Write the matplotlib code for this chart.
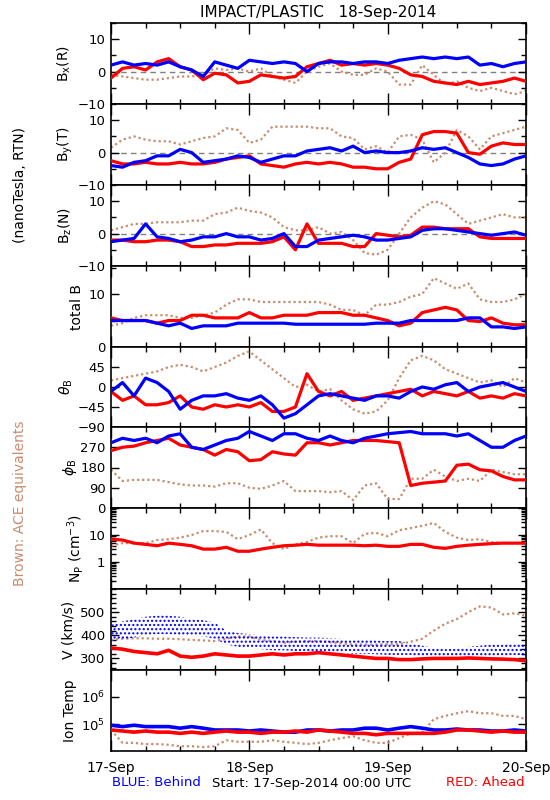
import matplotlib.pyplot as plt
import numpy as np
from matplotlib.ticker import MultipleLocator, FixedLocator, FixedFormatter, NullLocator, LogLocator, NullFormatter

# time axis, hours after 17-Sep-2014 00:00, every 2 h
hours = np.arange(0, 73, 2)
day_labels = ["17-Sep", "18-Sep", "19-Sep", "20-Sep"]

# --- magnetic field, nT (RTN) ---
bx_blue = [2, 3, 2, 2.5, 2, 3, 1.5, 0.5, -1.5, 3, 2, 1, 3.5, 3, 2.5, 3, 2.5, 0, 2.5, 3, 3, 2.5, 3, 3, 2.5,
           3.5, 4, 4.5, 4, 4.5, 4, 4.5, 2, 2.5, 1.5, 2.5, 3]
bx_red = [-2, 1, 1.5, 0.5, 3, 4, 1.5, 0.5, -2.5, -0.5, -1, -3.5, -3, -1, -1.5, -2, -1.5, 1.5, 2.5, 3.5, 2, 2.5,
          2, 2.5, 2, 1, -1, -1.5, -3, -3.5, -4, -3, -4, -3.5, -3, -2, -3]
bx_brown = [-1, -1.5, -2, -2.5, -2.5, -2, -1.5, -1.5, -1, 1, 0.5, 1, 0, 1, -1.5, -2.5, -3.5, 0, 1.5, 2.5, 0, -1,
            -1, 1, 0, -4, -4, 2, -1, -4, -3, -5, -6, -5, -6, -7, -6]

by_blue = [-4, -4.5, -3, -2.5, -1, -1, 1, 0, -3, -2.5, -2, -1, -1.5, -3, -2, -1, -1, 0.5, 1, 1.5, 0.5, 2, 0,
           0.5, 0, 0, 0.5, 1.5, 1, 1.5, 0, -1.5, -3.5, -4, -3.5, -2, -1]
by_red = [-2.5, -3.5, -3.5, -3, -3.5, -3.5, -3, -3.5, -3.5, -3, -2, -1.5, -1, -3.5, -4, -4.5, -3.5, -3, -3.5, -3,
          -3.5, -4.5, -4.5, -5, -5, -3, -2, 5.5, 6.5, 6.5, 6, 0, -0.5, 2, 3, 2.5, 2.5]
by_brown = [1.5, 4, 5, 4, 3.5, 3.5, 2.5, 3.5, 4.5, 5, 7.5, 7, 3, 4, 8, 8, 8, 8, 7.5, 7.5, 5, 4.5, 1, 2, 0, 5,
            5.5, 4, -3, 0, 7, 5, 1, 5, 6, 7, 8]

bz_blue = [-2.5, -2, -1.5, 3, -1, -1.5, -2.5, -2, -1, -1, 0, -1, -1, -2, -1.5, 0, -4, -4, -2, -1.5, -1, -0.5,
           -1, -2, -2, -1.5, -1, 1, 1.5, 1.5, 1, 0.5, 0, -0.5, 0, 0.5, -0.5]
bz_red = [-2, -2, -2.5, -2.5, -2, -2, -2.5, -4, -4, -3.5, -3.5, -3, -3, -3, -2.5, -1, -5, 3, -3, -3, -3, -4, -4,
          0, -0.5, -1, -0.5, 2, 2, 1.5, 1.5, 1.5, -1, -1.5, -1.5, -1.5, -1.5]
bz_brown = [1, 2, 3, 3, 3.5, 3.5, 3.5, 4, 4, 6, 6.5, 8, 7, 6.5, 5, 2, 1, 1, 2, 0, 0.5, -2, -6, -6.5, -5, 0, 5,
            8, 10, 9, 6, 3, 4, 5, 6, 5, 5]

bt_blue = [5, 5, 5, 5, 4.5, 4, 4.5, 3.5, 4, 4, 4, 4.5, 4.5, 4.5, 4.5, 4.5, 4.3, 4.3, 4.3, 4.3, 4.3, 4.3, 4.3,
           4.5, 4.5, 4.5, 5, 5, 5, 5, 5, 5.5, 5.5, 3.8, 3.8, 3.5, 3.8]
bt_red = [5.5, 5, 5, 5, 4.5, 5, 5, 6, 6, 5.5, 5.5, 5.5, 6.5, 5.5, 5.5, 6, 6, 6, 6.5, 6.5, 6.5, 6, 6, 5.5, 5, 4,
          4.5, 6.5, 7, 7.5, 7, 5, 4.8, 5.5, 4.5, 4.2, 4.2]
bt_brown = [4, 4.5, 5.5, 6, 6, 6, 5.5, 5.5, 6, 6.5, 8, 9, 9, 8.5, 8.5, 8.5, 8.5, 8.5, 8.5, 8, 7, 7, 6, 8, 8, 8.5,
            9.5, 10, 13, 12, 11, 12, 9, 8.5, 8.5, 9, 10]

# --- field angles, degrees ---
theta_blue = [-10, 10, -20, 20, 10, -10, -50, -30, -20, -20, -15, -25, -30, -20, -40, -70, -60, -40, -20, -15,
              -20, -25, -30, -20, -20, -25, -10, 0, -5, 5, 10, -10, 0, 5, 10, 0, -10]
theta_red = [-10, -30, -20, -40, -40, -35, -20, -45, -50, -40, -45, -40, -45, -35, -55, -55, -45, 30, -10, -20,
             -10, -30, -25, -20, -15, -10, -5, -20, -10, -15, -20, -10, -25, -20, -25, -15, -20]
theta_brown = [15, 20, 25, 30, 35, 45, 50, 45, 35, 45, 55, 70, 80, 60, 40, 20, 0, 5, -10, -5, -30, -50, -60,
               -55, -30, 20, 60, 70, 60, 40, 30, 20, 10, 15, 0, 20, 10]

phi_blue = [290, 310, 300, 310, 290, 320, 330, 270, 260, 280, 300, 310, 340, 320, 300, 330, 330, 310, 300, 320,
            300, 290, 310, 320, 330, 335, 340, 330, 330, 330, 320, 330, 300, 270, 270, 300, 320]
phi_red = [255, 270, 275, 290, 300, 310, 280, 270, 260, 235, 260, 250, 210, 215, 250, 240, 235, 290, 290, 280,
           290, 300, 300, 300, 295, 290, 100, 110, 115, 120, 190, 195, 170, 165, 140, 125, 125]
phi_brown = [170, 120, 125, 125, 125, 115, 105, 100, 100, 95, 110, 110, 90, 85, 100, 120, 75, 75, 75, 70, 75,
             35, 100, 110, 40, 40, 130, 130, 170, 140, 120, 130, 120, 170, 160, 150, 150]

# --- plasma ---
np_red = [7, 6.5, 5, 4.5, 4, 5, 4.5, 4, 3, 3, 3.5, 2.5, 2.5, 3, 3.5, 4, 4.2, 4.5, 4.2, 4.2, 4.2, 4.2, 4, 4.2,
          3.8, 3.8, 4.5, 4.5, 3.5, 3.2, 3.8, 4.2, 4.5, 4.8, 5, 5, 5]
np_brown = [4, 5, 5, 5, 6.5, 7, 8, 10, 14, 14, 13, 7, 10, 16, 5, 3, 4.5, 5.5, 8, 9, 9, 5, 11, 12, 9, 15, 18, 22,
            28, 13, 8, 6.5, 7, 5.5, 5, 5, 4.5]

v_blue = [410, 420, 430, 440, 445, 445, 440, 435, 430, 420, 390, 380, 375, 370, 365, 365, 362, 360, 360, 358,
          355, 350, 350, 348, 345, 345, 340, 330, 320, 315, 318, 325, 330, 335, 335, 340, 335]
v_blue_spread = [35, 40, 40, 40, 40, 40, 40, 35, 35, 35, 30, 30, 30, 30, 30, 30, 30, 30, 30, 30, 30, 30, 30,
                 30, 30, 30, 25, 25, 25, 25, 25, 25, 25, 25, 25, 25, 25]
v_red = [345, 340, 330, 325, 320, 335, 310, 305, 310, 320, 315, 310, 310, 315, 320, 315, 320, 320, 325, 320, 315,
         310, 305, 300, 300, 295, 295, 298, 300, 300, 300, 302, 300, 298, 297, 295, 290]
v_brown = [380, 385, 387, 387, 385, 385, 383, 380, 378, 375, 385, 395, 395, 380, 375, 368, 372, 375, 375, 370,
           365, 360, 360, 360, 362, 362, 372, 385, 420, 450, 470, 500, 525, 520, 490, 495, 485]

t_blue = [9e4, 8e4, 9e4, 8e4, 8e4, 8e4, 7e4, 8e4, 7e4, 6e4, 6e4, 6e4, 5.5e4, 6e4, 5.5e4, 5e4, 5e4, 6e4, 6e4,
          5.5e4, 6e4, 6e4, 7e4, 7e4, 6e4, 7e4, 8e4, 7e4, 6e4, 6e4, 6.5e4, 6e4, 6e4, 5.5e4, 5.5e4, 6e4, 5.5e4]
t_red = [6e4, 5.5e4, 5e4, 5.5e4, 5e4, 5e4, 4.5e4, 5e4, 4.5e4, 5e4, 5.5e4, 5e4, 5e4, 4.5e4, 5e4, 5e4, 5.5e4, 5e4,
         6e4, 5.5e4, 5e4, 4.5e4, 4.5e4, 4e4, 4.5e4, 4.5e4, 4.5e4, 4.5e4, 4.5e4, 5e4, 6e4, 6e4, 5.5e4, 5e4,
         5.5e4, 5e4, 5e4]
t_brown = [6e4, 2e4, 2e4, 1.8e4, 1.8e4, 1.7e4, 1.5e4, 1.5e4, 1.4e4, 1.5e4, 2.5e4, 2.2e4, 2.2e4, 2.2e4, 2.5e4,
           2.2e4, 2e4, 1.8e4, 2e4, 2.5e4, 3e4, 3.5e4, 2.5e4, 2e4, 2e4, 3e4, 4.5e4, 5e4, 1.5e5, 2e5, 2.5e5, 3e5,
           2.5e5, 2.5e5, 2e5, 2e5, 1.5e5]

BLUE = "#0000ff"
RED = "#ff0000"
BROWN = "#c88c6e"

plt.rcParams["font.family"] = "DejaVu Sans"

fig = plt.figure(figsize=(5.5, 8), dpi=100)
W, H = 550.0, 800.0
edges = [23, 104, 185, 266, 347, 427, 508, 589, 670, 751]

panels = [
    # (ylabel, label x centre px, series (blue, red, brown), ylim, log)
    (r"B$_{\rm x}$(R)", 64, (bx_blue, bx_red, bx_brown), (-10, 15), False),
    (r"B$_{\rm y}$(T)", 65, (by_blue, by_red, by_brown), (-10, 15), False),
    (r"B$_{\rm z}$(N)", 65, (bz_blue, bz_red, bz_brown), (-10, 15), False),
    ("total B", 77, (bt_blue, bt_red, bt_brown), (0, 15.3), False),
    (r"$\theta_{\rm B}$", 66, (theta_blue, theta_red, theta_brown), (-90, 90), False),
    (r"$\phi_{\rm B}$", 70, (phi_blue, phi_red, phi_brown), (0, 360), False),
    (r"N$_{\rm P}$ (cm$^{-3}$)", 75, (None, np_red, np_brown), (0.1, 100), True),
    ("V (km/s)", 68, (None, v_red, v_brown), (250, 600), False),
    ("Ion Temp", 70, (t_blue, t_red, t_brown), (1e4, 1e7), True),
]

brown_dots = (0, (1, 1.3))
axes = []
for i, (label, lx, (sb, sr, sbr), ylim, logy) in enumerate(panels):
    top, bot = edges[i], edges[i + 1]
    ax = fig.add_axes([111 / W, 1 - bot / H, 415 / W, (bot - top) / H])
    axes.append(ax)
    if logy:
        ax.set_yscale("log")
    if i < 3:
        ax.axhline(0, color="gray", ls=(0, (4, 3)), lw=1, zorder=1)
    ax.plot(hours, sbr, color=BROWN, lw=1.6, ls=brown_dots, zorder=2)
    if i >= 7:
        if sb is not None:
            ax.plot(hours, sb, color=BLUE, lw=2.6, zorder=3)
        ax.plot(hours, sr, color=RED, lw=2.6, zorder=4)
    else:
        ax.plot(hours, sr, color=RED, lw=2.3, zorder=3)
        if sb is not None:
            ax.plot(hours, sb, color=BLUE, lw=2.3, zorder=4)
    ax.set_xlim(0, 72)
    ax.set_ylim(*ylim)
    ax.set_ylabel(label, fontsize=10, va="center")
    ax.yaxis.set_label_coords((lx - 111) / 415, 0.5)
    ax.xaxis.set_major_locator(MultipleLocator(24))
    ax.xaxis.set_minor_locator(MultipleLocator(6))
    ax.tick_params(which="both", direction="in", top=True, right=True, labelsize=9.5, width=1)
    ax.tick_params(which="major", length=6, pad=4)
    ax.tick_params(which="minor", length=3.5)
    ax.tick_params(axis="x", which="major", length=8)
    for sp in ax.spines.values():
        sp.set_linewidth(1.2)
    if i < 8:
        ax.set_xticklabels([])

# blue speed cloud
axv = axes[7]
lo = np.array(v_blue) - np.array(v_blue_spread)
hi = np.array(v_blue) + np.array(v_blue_spread)
axv.fill_between(hours, lo, hi, facecolor="none", edgecolor=BLUE, hatch="....", lw=0, zorder=2.5)

# y ticks per panel
for ax in axes[:3]:
    ax.yaxis.set_major_locator(FixedLocator([-10, 0, 10]))
    ax.set_yticklabels(["\u221210", "0", "10"])
    ax.yaxis.set_minor_locator(MultipleLocator(5))
axes[3].yaxis.set_major_locator(FixedLocator([0, 10]))
axes[3].yaxis.set_minor_locator(MultipleLocator(5))
axes[4].yaxis.set_major_locator(FixedLocator([-90, -45, 0, 45]))
axes[4].set_yticklabels(["\u221290", "\u221245", "0", "45"])
axes[4].yaxis.set_minor_locator(NullLocator())
axes[5].yaxis.set_major_locator(FixedLocator([0, 90, 180, 270]))
axes[5].yaxis.set_minor_locator(NullLocator())
axes[6].yaxis.set_major_locator(FixedLocator([0.1, 1, 10, 100]))
axes[6].yaxis.set_major_formatter(FixedFormatter(["", "1", "10", ""]))
axes[6].yaxis.set_minor_locator(LogLocator(subs=np.arange(2, 10), numticks=10))
axes[6].yaxis.set_minor_formatter(NullFormatter())
axes[7].yaxis.set_major_locator(FixedLocator([300, 400, 500]))
axes[7].yaxis.set_minor_locator(MultipleLocator(20))
axes[8].yaxis.set_major_locator(FixedLocator([1e5, 1e6]))
axes[8].yaxis.set_major_formatter(FixedFormatter([r"$10^5$", r"$10^6$"]))
axes[8].yaxis.set_minor_locator(NullLocator())

axes[8].set_xticks([0, 24, 48, 72])
axes[8].set_xticklabels(day_labels, fontsize=10)
axes[8].tick_params(axis="x", pad=7)

fig.text(318 / W, 1 - 12 / H, "IMPACT/PLASTIC   18-Sep-2014", ha="center", va="center", fontsize=11)
fig.text(20 / W, 1 - 185 / H, "(nanoTesla, RTN)", rotation=90, ha="center", va="center", fontsize=10)
fig.text(20 / W, 1 - 503 / H, "Brown: ACE equivalents", rotation=90, ha="center", va="center",
         fontsize=10, color=BROWN)
fig.text(112 / W, 1 - 783 / H, "BLUE: Behind", color=BLUE, ha="left", va="center", fontsize=9.5)
fig.text(212 / W, 1 - 783 / H, "Start: 17-Sep-2014 00:00 UTC", ha="left", va="center", fontsize=9.5)
fig.text(525 / W, 1 - 783 / H, "RED: Ahead", color=RED, ha="right", va="center", fontsize=9.5)

fig.savefig("out.png", dpi=100)
